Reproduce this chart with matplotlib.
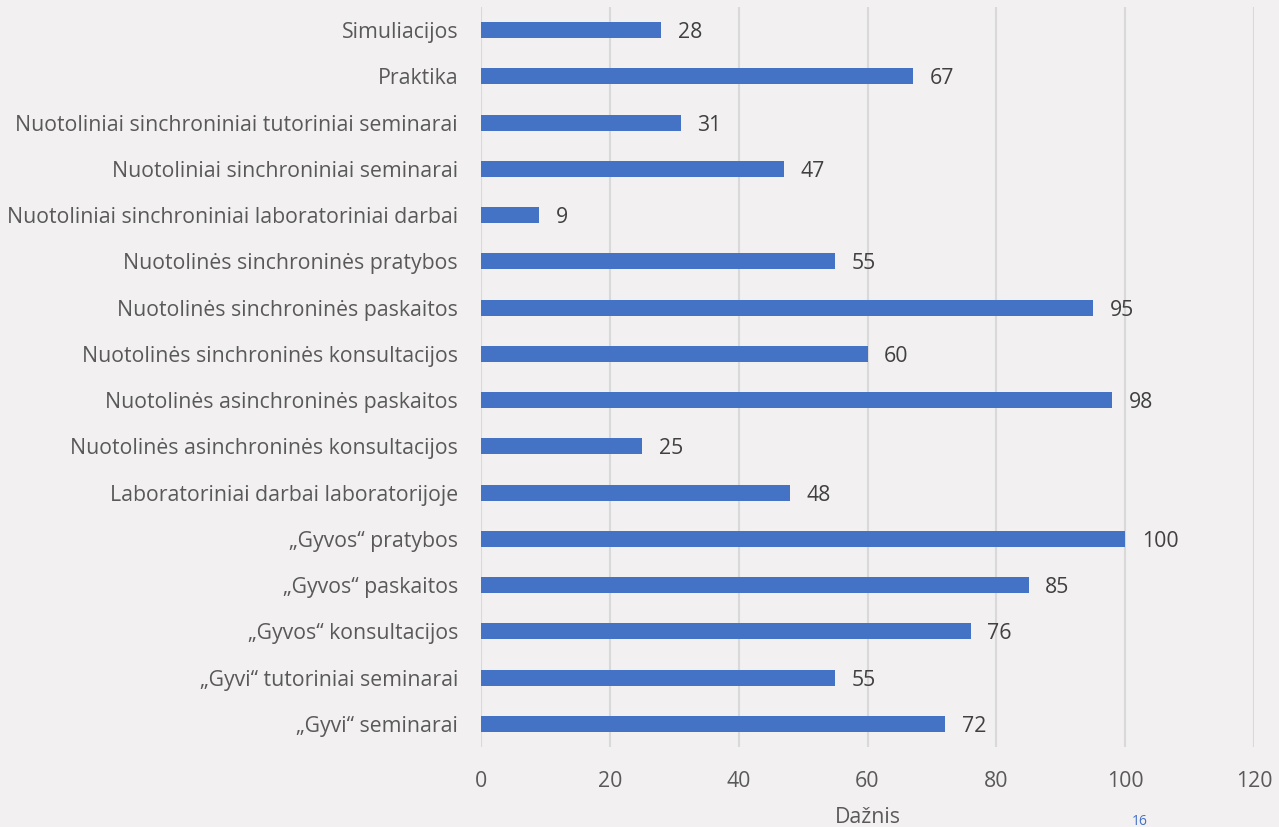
import matplotlib
matplotlib.use("Agg")
import matplotlib.pyplot as plt

categories = [
    "„Gyvi“ seminarai",
    "„Gyvi“ tutoriniai seminarai",
    "„Gyvos“ konsultacijos",
    "„Gyvos“ paskaitos",
    "„Gyvos“ pratybos",
    "Laboratoriniai darbai laboratorijoje",
    "Nuotolinės asinchroninės konsultacijos",
    "Nuotolinės asinchroninės paskaitos",
    "Nuotolinės sinchroninės konsultacijos",
    "Nuotolinės sinchroninės paskaitos",
    "Nuotolinės sinchroninės pratybos",
    "Nuotoliniai sinchroniniai laboratoriniai darbai",
    "Nuotoliniai sinchroniniai seminarai",
    "Nuotoliniai sinchroniniai tutoriniai seminarai",
    "Praktika",
    "Simuliacijos",
]
values = [72, 55, 76, 85, 100, 48, 25, 98, 60, 95, 55, 9, 47, 31, 67, 28]
xticks = [0, 20, 40, 60, 80, 100, 120]
xlabel = "Dažnis"
page_number = "16"

bg = "#F2F0F1"
txt = "#595959"
plt.rcParams['font.family'] = ['Open Sans', 'DejaVu Sans']
fs = 15.3

fig = plt.figure(figsize=(12.79, 8.27), dpi=100, facecolor=bg)
ax = fig.add_axes([481/1279, 1 - 747/827, (1254 - 481)/1279, 740/827])
ax.set_facecolor(bg)

y = list(range(len(categories)))
ax.barh(y, values, height=0.35, color="#4472C4", zorder=3)
for yi, v in zip(y, values):
    ax.text(v + 2.6, yi, str(v), va="center_baseline", ha="left", fontsize=fs, color="#404040")

ax.set_xlim(0, 120)
ax.set_ylim(-0.5, len(categories) - 0.5)
ax.set_xticks(xticks)
ax.set_xticklabels([str(t) for t in xticks], fontsize=fs, color=txt)
ax.set_yticks(y)
ax.set_yticklabels(categories, fontsize=fs, color=txt)
ax.tick_params(axis='both', length=0)
ax.tick_params(axis='x', pad=17)
ax.tick_params(axis='y', pad=16.5)
ax.xaxis.grid(True, color="#D9D9D9", linewidth=1.5, zorder=0)
for s in ax.spines.values():
    s.set_visible(False)
ax.set_xlabel(xlabel, fontsize=fs, color=txt, labelpad=11)

fig.text(1140/1279, 1 - 814/827, page_number, color="#4472C4", fontsize=10, ha="center", va="top")

fig.savefig("out.png", dpi=100, facecolor=bg)
